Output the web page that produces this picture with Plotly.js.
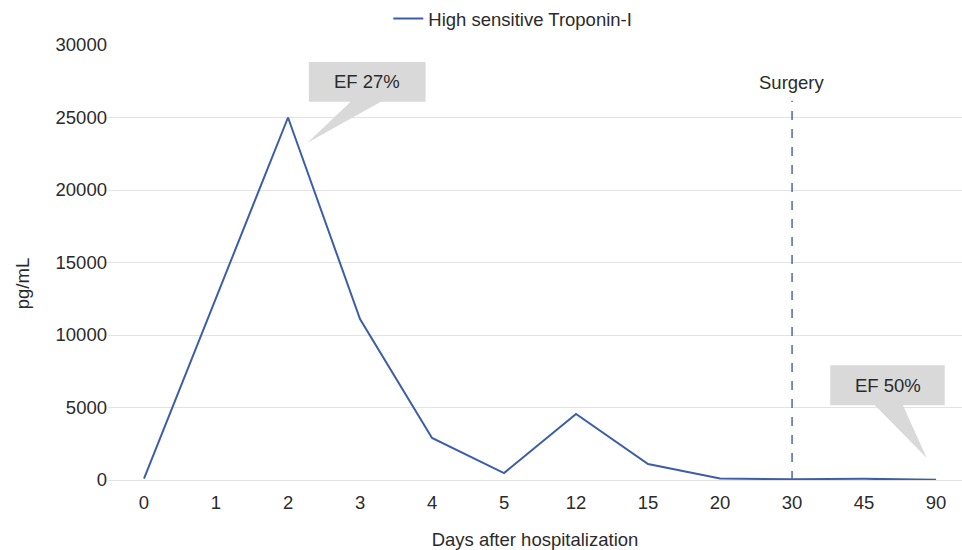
<!DOCTYPE html>
<html><head><meta charset="utf-8">
<script src="https://cdn.plot.ly/plotly-3.0.1.min.js"></script>
<style>html,body{margin:0;padding:0;background:#fff}</style>
</head><body><div id="chart" style="width:962px;height:550px"></div>
<script>
const days = ['0','1','2','3','4','5','12','15','20','30','45','90'];
const troponin = [100, 12500, 25000, 11100, 2900, 480, 4550, 1100, 100, 60, 80, 10];
const seriesName = 'High sensitive Troponin-I';
const surgeryDay = '30';
const efLabels = ['EF 27%', 'EF 50%'];
const efDays = ['2', '90'];

const idx = days.map((d, i) => i);
const sIdx = days.indexOf(surgeryDay);
const e1 = days.indexOf(efDays[0]);
const e2 = days.indexOf(efDays[1]);
const font = 'Liberation Sans, Arial, sans-serif';
const blue = '#3c5ea8';
const gray = '#d9d9d9';
const fs = 18.5;
const txt = '#2b2b2b';

function callout(bx0, bx1, by0, by1, px0, px1, tx, ty) {
  return {type:'path', xref:'x', yref:'y', fillcolor:gray, line:{width:0}, layer:'above',
    path:`M${bx0},${by1} L${bx1},${by1} L${bx1},${by0} L${px1},${by0} L${tx},${ty} L${px0},${by0} L${bx0},${by0} Z`};
}

const data = [{
  x: idx, y: troponin, type:'scatter', mode:'lines', name: seriesName,
  line:{color:blue, width:2}
}];

const layout = {
  width:962, height:550,
  margin:{l:108, r:0, t:44, b:70},
  paper_bgcolor:'#fff', plot_bgcolor:'#fff',
  font:{family:font, size:fs, color:txt},
  showlegend:true,
  legend:{orientation:'h', x:0.474, xanchor:'center', y:1.015, yanchor:'bottom', font:{size:fs, color:txt}},
  xaxis:{type:'linear', range:[-0.5, 11.36], tickvals:idx, ticktext:days, showgrid:false, zeroline:false,
    showline:false, ticks:'outside', ticklen:6, tickcolor:'rgba(0,0,0,0)', tickfont:{size:fs, color:txt},
    title:{text:'Days after hospitalization', font:{size:fs, color:txt}, standoff:28}},
  yaxis:{range:[0, 30000], dtick:5000, tickformat:'d', showgrid:true, gridcolor:'#e3e3e3', gridwidth:1, zeroline:true, zerolinecolor:'#e3e3e3',
    ticks:'', tickfont:{size:fs, color:txt}},
  shapes:[
    {type:'line', xref:'x', yref:'y', x0:sIdx, x1:sIdx, y0:0, y1:26150, line:{color:'#4a68ad', width:1.5, dash:'dash'}},
    callout(e1+0.29, e1+1.91, 26080, 28830, e1+0.87, e1+1.29, e1+0.27, 23260),
    callout(e2-1.47, e2+0.12, 5160, 7910, e2-0.85, e2-0.46, e2-0.13, 1510)
  ],
  annotations:[
    {x:-0.1007, y:0.45, xref:'paper', yref:'paper', xanchor:'center', yanchor:'middle', text:'pg/mL', textangle:-90, showarrow:false, font:{size:fs, color:txt}},
    {x:sIdx, y:27400, xref:'x', yref:'y', text:'Surgery', showarrow:false, font:{size:fs, color:txt}},
    {x:e1+1.1, y:27455, xref:'x', yref:'y', text:efLabels[0], showarrow:false, font:{size:fs, color:txt}},
    {x:e2-0.67, y:6535, xref:'x', yref:'y', text:efLabels[1], showarrow:false, font:{size:fs, color:txt}}
  ]
};
Plotly.newPlot('chart', data, layout, {displayModeBar:false, staticPlot:true});
</script></body></html>
